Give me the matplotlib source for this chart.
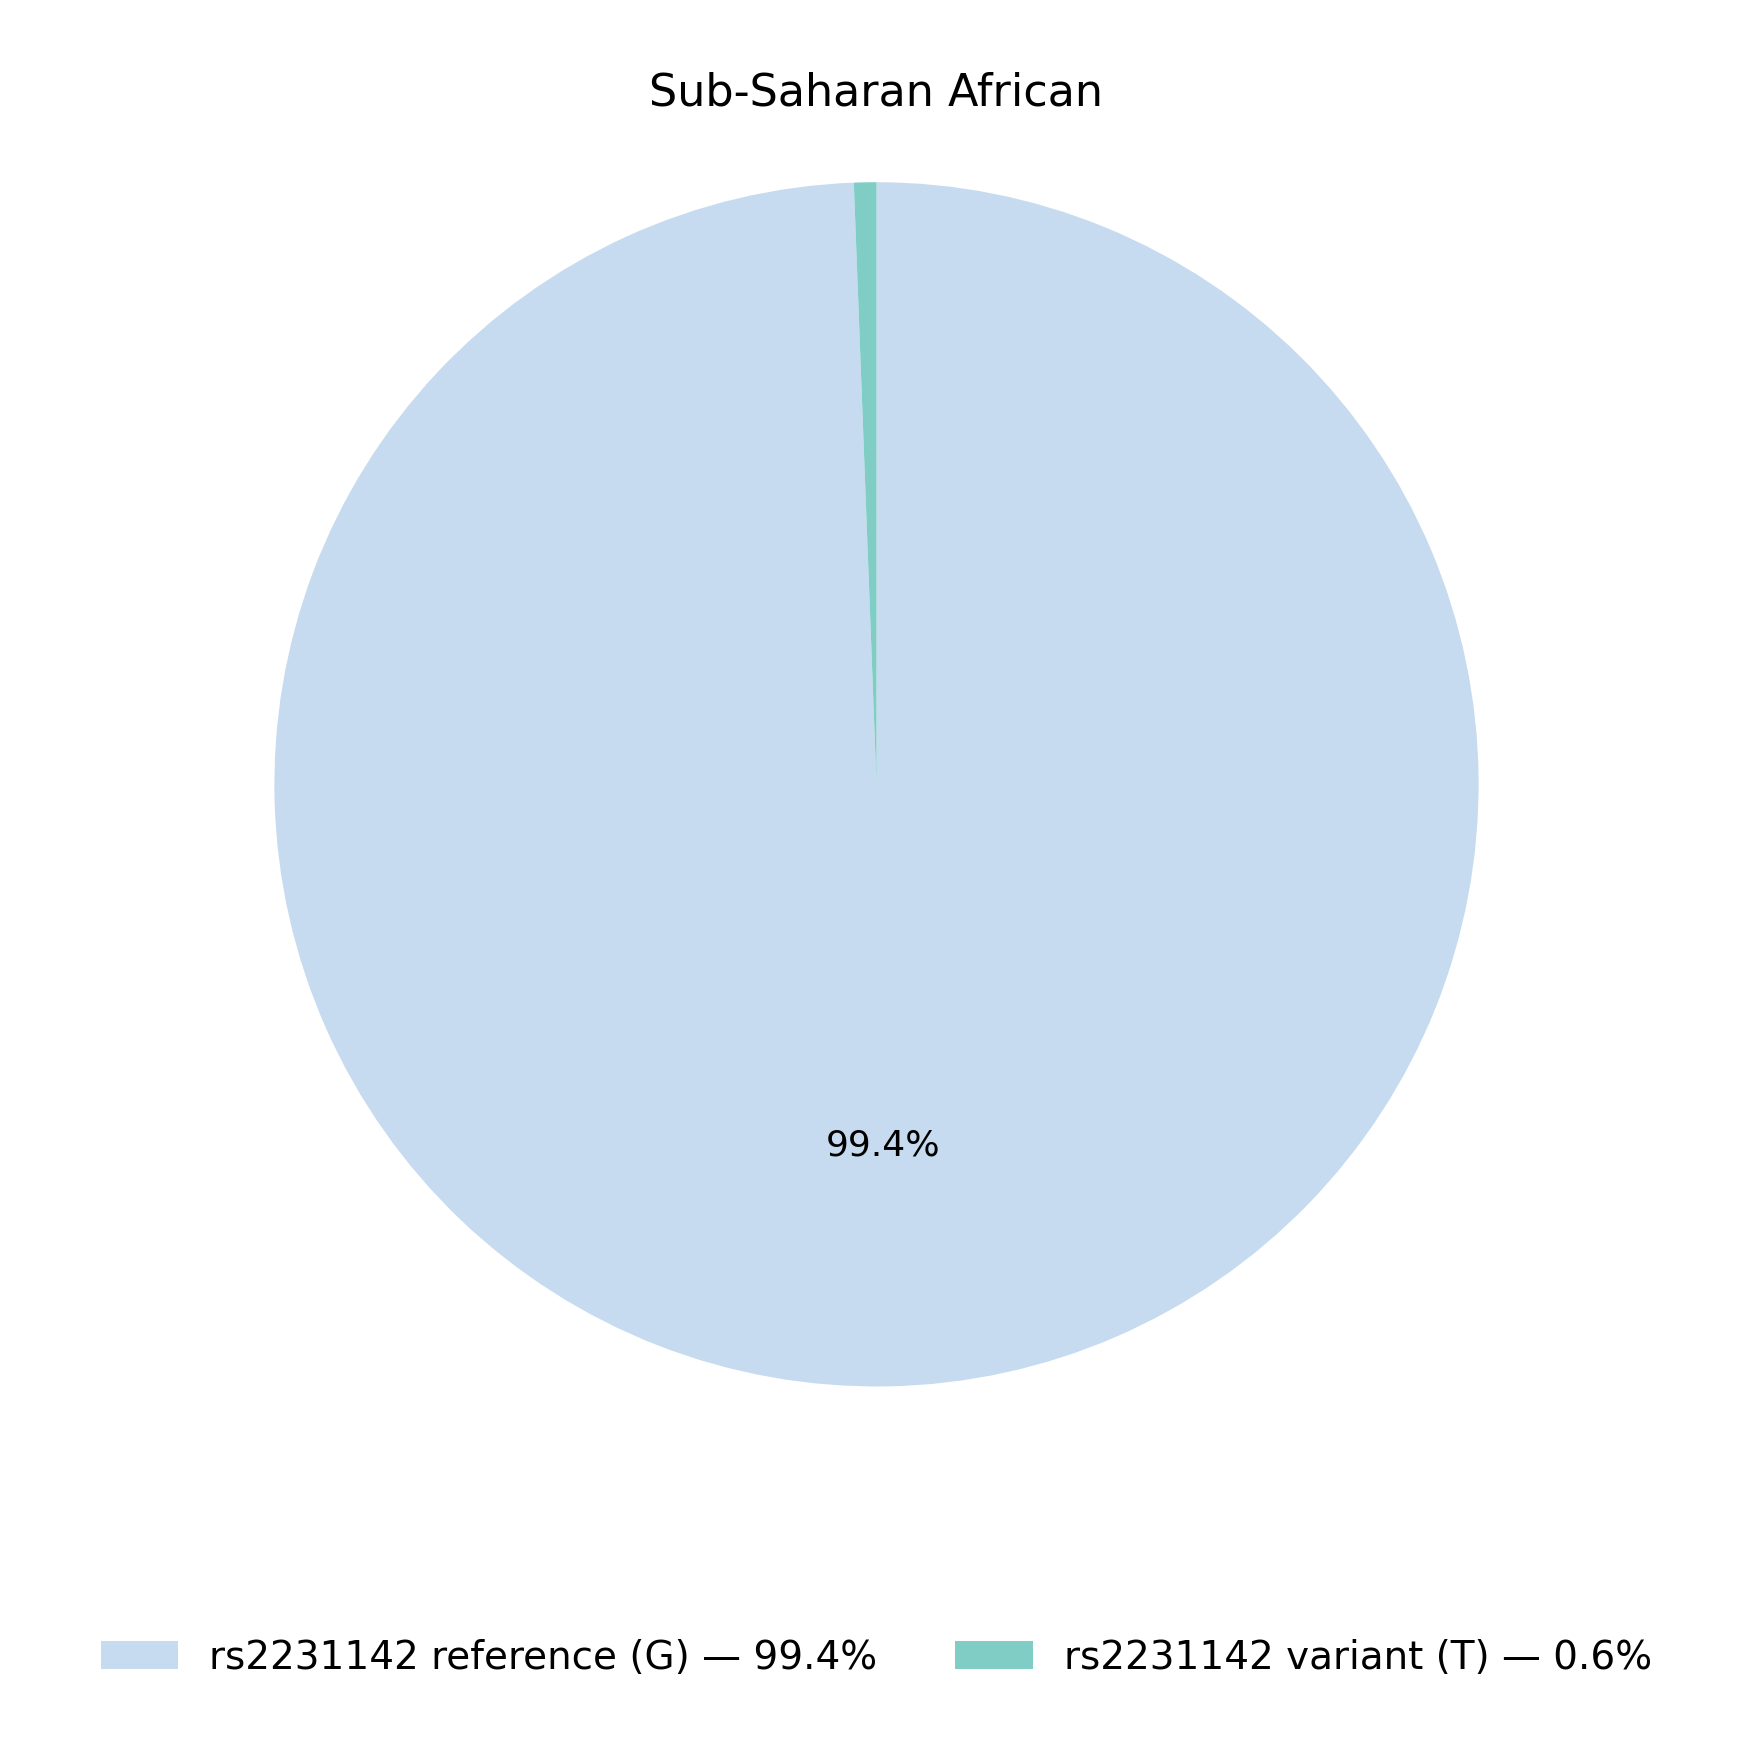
import matplotlib
matplotlib.use("Agg")
import matplotlib.pyplot as plt

labels = ["rs2231142 reference (G)", "rs2231142 variant (T)"]
values = [99.4, 0.6]
colors = ["#c6dbef", "#7fcdc4"]

fig, ax = plt.subplots(figsize=(8.765, 8.715), dpi=200)
wedges, texts, autotexts = ax.pie(
    values, colors=colors, startangle=90, counterclock=False,
    autopct=lambda p: f"{p:.1f}%" if p > 5 else "",
    pctdistance=0.6, textprops={"fontsize": 13},
    wedgeprops={"linewidth": 0},
)
ax.set_title("Sub-Saharan African", fontsize=16)
ax.axis("equal")
ax.legend(wedges, [f"{l} \u2014 {v}%" for l, v in zip(labels, values)],
          loc="lower center", bbox_to_anchor=(0.5, -0.2), ncol=2,
          frameon=False, fontsize=14)
fig.subplots_adjust(left=0.05, right=0.95, top=0.93, bottom=0.17)
fig.savefig("out.png")
